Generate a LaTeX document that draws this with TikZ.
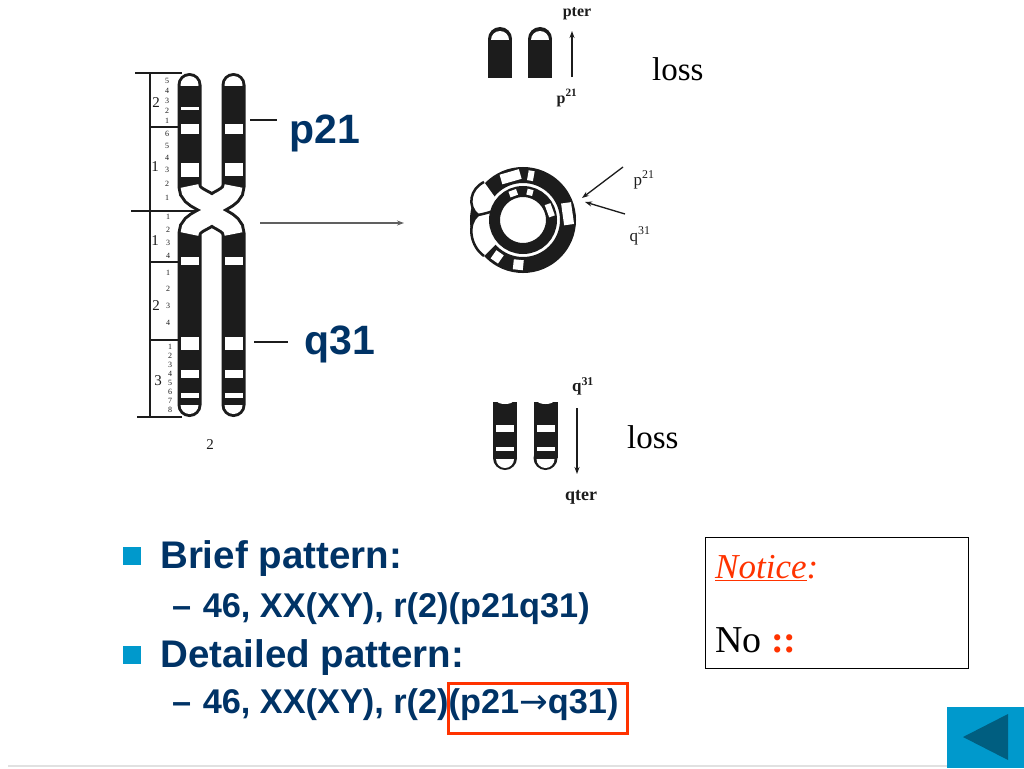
\documentclass[tikz,border=0pt]{standalone}
\usepackage{fontspec}
\setmainfont{Liberation Serif}
\setsansfont{Liberation Sans}
\newfontfamily\dejavu{DejaVu Sans}
\usetikzlibrary{arrows.meta}
\definecolor{navy}{RGB}{0,51,102}
\definecolor{bluesq}{RGB}{0,153,204}
\definecolor{redbox}{RGB}{255,51,0}
\definecolor{tridark}{RGB}{0,94,128}
\definecolor{ink}{RGB}{28,28,28}
\definecolor{rulegray}{RGB}{225,225,225}
\tikzset{
  bigtxt/.style={font=\sffamily\bfseries\fontsize{41}{41}\selectfont, text=navy, inner sep=0pt, anchor=base west},
  headtxt/.style={font=\sffamily\bfseries\fontsize{38.5}{40}\selectfont, text=navy, inner sep=0pt, anchor=base west},
  subtxt/.style={font=\sffamily\bfseries\fontsize{34.3}{36}\selectfont, text=navy, inner sep=0pt, anchor=base west},
  bulletsq/.style={fill=bluesq, inner sep=0pt, minimum size=18pt},
  scanlbl/.style={font=\fontsize{17}{17}\selectfont, text=ink, inner sep=0pt},
  losstxt/.style={font=\fontsize{33}{33}\selectfont, inner sep=0pt, anchor=base west},
  tinynum/.style={font=\fontsize{8}{8}\selectfont, text=ink, inner sep=0pt},
  regnum/.style={font=\fontsize{15}{15}\selectfont, text=ink, inner sep=0pt},
  chromo/.style={draw=ink, line width=24pt, line cap=round},
  chromowhite/.style={draw=white, line width=18pt},
  bandw/.style={fill=white},
  thinarrow/.style={draw=ink, line width=1.3pt, -{Stealth[length=7pt,width=5pt]}},
  grayarrow/.style={draw=ink!70, line width=1.2pt, -{Stealth[length=7pt,width=5pt]}},
  scaleline/.style={draw=ink, line width=1.4pt},
  dashline/.style={draw=ink, line width=1.8pt},
}
\begin{document}
\begin{tikzpicture}[x=1pt,y=-1pt]
\useasboundingbox (0,0) rectangle (1024,768);
\fill[white] (0,0) rectangle (1024,768);

% ---------- scale of chromosome 2 ----------
\draw[scaleline] (150,73) -- (150,417);
\draw[scaleline] (135,73) -- (182,73);
\draw[scaleline] (131,211) -- (198,211);
\draw[scaleline] (137,417) -- (182,417);
\draw[scaleline] (150,127) -- (178,127);
\draw[scaleline] (150,262) -- (178,262);
\draw[scaleline] (150,340) -- (178,340);

\node[regnum] (rp2) at (156,103) {2};
\node[regnum] (rp1) at (155,167) {1};
\node[regnum] (rq1) at (155,241) {1};
\node[regnum] (rq2) at (156,306) {2};
\node[regnum] (rq3) at (158,381) {3};

\foreach \n/\yy in {5/81,4/91,3/101,2/111,1/121}
  \node[tinynum] (pa\n) at (167,\yy) {\n};
\foreach \n/\yy in {6/134,5/146,4/158,3/170,2/184,1/198}
  \node[tinynum] (pb\n) at (167,\yy) {\n};
\foreach \n/\yy in {1/217,2/230,3/243,4/256}
  \node[tinynum] (qa\n) at (168,\yy) {\n};
\foreach \n/\yy in {1/273,2/289,3/306,4/323}
  \node[tinynum] (qb\n) at (168,\yy) {\n};
\foreach \n/\yy in {1/347,2/356,3/365,4/374,5/383,6/392,7/401,8/410}
  \node[tinynum] (qc\n) at (170,\yy) {\n};

% ---------- chromatids ----------
\draw[chromo] (189.5,85) -- (189.5,186) .. controls (189.5,200) and (212,200) .. (212,210) .. controls (212,220) and (189.5,220) .. (189.5,234) -- (189.5,405);
\draw[chromo] (233.5,85) -- (233.5,186) .. controls (233.5,200) and (212,200) .. (212,210) .. controls (212,220) and (233.5,220) .. (233.5,234) -- (233.5,405);
\draw[chromowhite] (189.5,186) .. controls (189.5,200) and (212,200) .. (212,210) .. controls (212,220) and (189.5,220) .. (189.5,234);
\draw[chromowhite] (233.5,186) .. controls (233.5,200) and (212,200) .. (212,210) .. controls (212,220) and (233.5,220) .. (233.5,234);
\begin{scope}
  \clip (170,60) rectangle (260,85);
  \fill[white] (189.5,85) circle[radius=9];
  \fill[white] (233.5,85) circle[radius=9];
\end{scope}
\begin{scope}
  \clip (170,405) rectangle (260,430);
  \fill[white] (189.5,405) circle[radius=9];
  \fill[white] (233.5,405) circle[radius=9];
\end{scope}
% bands left chromatid
\foreach \ya/\yb in {107/110,124/134,163/177,257/265,337/350,370/378,393/398}
  \fill[bandw] (180.5,\ya) rectangle (198.5,\yb);
% bands right chromatid
\foreach \ya/\yb in {124/134,163/176,257/265,337/350,370/378,393/398}
  \fill[bandw] (224.5,\ya) rectangle (242.5,\yb);

\node[regnum] (chr2) at (210,445) {2};

% labels p21 / q31
\coordinate (pdA) at (250,120);
\coordinate (pdB) at (277,120);
\draw[dashline] (pdA) -- (pdB);
\node[bigtxt] (p21) at (289,143) {p21};
\coordinate (qdA) at (254,342);
\coordinate (qdB) at (288,342);
\draw[dashline] (qdA) -- (qdB);
\node[bigtxt] (q31) at (304,354) {q31};

% arrow to ring
\coordinate (cenA) at (260,223);
\coordinate (cenB) at (404,223);
\draw[grayarrow] (cenA) -- (cenB);

% ---------- top lost fragment ----------
\foreach \cx in {500,540} {
  \fill[ink] (\cx,39) circle[radius=12];
  \fill[ink] (\cx-12,39) rectangle (\cx+12,78);
}
\begin{scope}
  \clip (480,20) rectangle (560,40);
  \fill[white] (500,40) circle[radius=9];
  \fill[white] (540,40) circle[radius=9];
\end{scope}
\coordinate (ptA) at (572,77);
\coordinate (ptB) at (572,31);
\draw[thinarrow] (ptA) -- (ptB);
\node[scanlbl, font=\bfseries\fontsize{16}{16}\selectfont] (pter) at (577,14) {pter};
\node[scanlbl, font=\bfseries\fontsize{16}{16}\selectfont] (pt21) at (567,98) {p\textsuperscript{21}};
\node[losstxt] (loss1) at (652,81) {loss};

% ---------- bottom lost fragment ----------
\foreach \cx in {505,545.5} {
  \fill[ink] (\cx-12,402) rectangle (\cx+12,458);
  \fill[ink] (\cx,458) circle[radius=12];
  \fill[white] (\cx,401) ellipse[x radius=8, y radius=3];
  \fill[white] (\cx-9,425) rectangle (\cx+9,432);
  \fill[white] (\cx-9,447) rectangle (\cx+9,450.5);
}
\begin{scope}
  \clip (480,459) rectangle (570,480);
  \fill[white] (505,459) circle[radius=9];
  \fill[white] (545.5,459) circle[radius=9];
\end{scope}
\coordinate (qtA) at (577,408);
\coordinate (qtB) at (577,474);
\draw[thinarrow] (qtA) -- (qtB);
\node[scanlbl, font=\bfseries\fontsize{17}{17}\selectfont] (qt31) at (583,386) {q\textsuperscript{31}};
\node[scanlbl, font=\bfseries\fontsize{18}{18}\selectfont] (qter) at (581,497) {qter};
\node[losstxt] (loss2) at (627,448) {loss};

% ---------- ring chromosome ----------
\coordinate (ringC) at (523,220);
\draw[ink, line width=16pt] (ringC) circle[radius=45];
\fill[white] (484,182) .. controls (470,189) and (467,206) .. (478,215) .. controls (467,224) and (470,246) .. (484,256) -- (500,240) -- (497,200) -- cycle;
\draw[ink, line width=2.5pt] (484,182) .. controls (470,189) and (467,206) .. (478,215) .. controls (467,224) and (470,246) .. (484,256);
\draw[ink, line width=2.5pt] (478,215) .. controls (484,214) and (490,212) .. (497,210);
\draw[ink, line width=11pt] (ringC) circle[radius=28.5];
\begin{scope}[shift={(523,220)}]
  \foreach \ang/\w in {-106/20,-80/6,-8/22,125/9,96/10}
    \draw[white, line width=\w pt] (\ang:40) -- (\ang:50);
  \foreach \ang/\w in {-110/8,-76/6,-20/13}
    \draw[white, line width=\w pt] (\ang:25.5) -- (\ang:31.5);
\end{scope}
\coordinate (ra1) at (623,167);
\coordinate (rb1) at (582,198);
\coordinate (ra2) at (625,214);
\coordinate (rb2) at (585,202);
\draw[thinarrow] (ra1) -- (rb1);
\draw[thinarrow] (ra2) -- (rb2);
\node[scanlbl] (rp21) at (644,180) {p\textsuperscript{21}};
\node[scanlbl] (rq31) at (640,236) {q\textsuperscript{31}};

% ---------- text ----------
\node[bulletsq] (b1) at (132,556) {};
\node[headtxt] (brief) at (160,568) {Brief pattern:};
\node[subtxt] (s1) at (172,617) {–\hspace{2pt} 46, XX(XY), r(2)(p21q31)};
\node[bulletsq] (b2) at (132,655) {};
\node[headtxt] (detail) at (160,667) {Detailed pattern:};
\node[subtxt] (s2) at (172,713) {–\hspace{2pt} 46, XX(XY), r(2)(p21{\dejavu\mdseries →}q31)};
\node[draw=redbox, line width=2.5pt, minimum width=179pt, minimum height=50pt, anchor=north west, inner sep=0pt] (redframe) at (447,682) {};

% ---------- notice ----------
\node[draw=black, line width=1pt, minimum width=263pt, minimum height=131pt, inner sep=0pt, anchor=north west] (noticebox) at (705,537) {};
\node[anchor=base west, inner sep=0pt, text=redbox, font=\itshape\fontsize{35}{35}\selectfont] (notice) at (715,578) {\underline{Notice}:};
\node[anchor=base west, inner sep=0pt, font=\fontsize{38}{38}\selectfont] (nono) at (715,652) {No \textcolor{redbox}{\textbf{::}}};

% ---------- button and rule ----------
\node[fill=bluesq, minimum width=77pt, minimum height=61pt, anchor=north west, inner sep=0pt] (button) at (947,707) {};
\fill[tridark] (963,737) -- (1008,714) -- (1008,760) -- cycle;
\draw[rulegray, line width=1.5pt] (8,766) -- (947,766);
\end{tikzpicture}
\end{document}
